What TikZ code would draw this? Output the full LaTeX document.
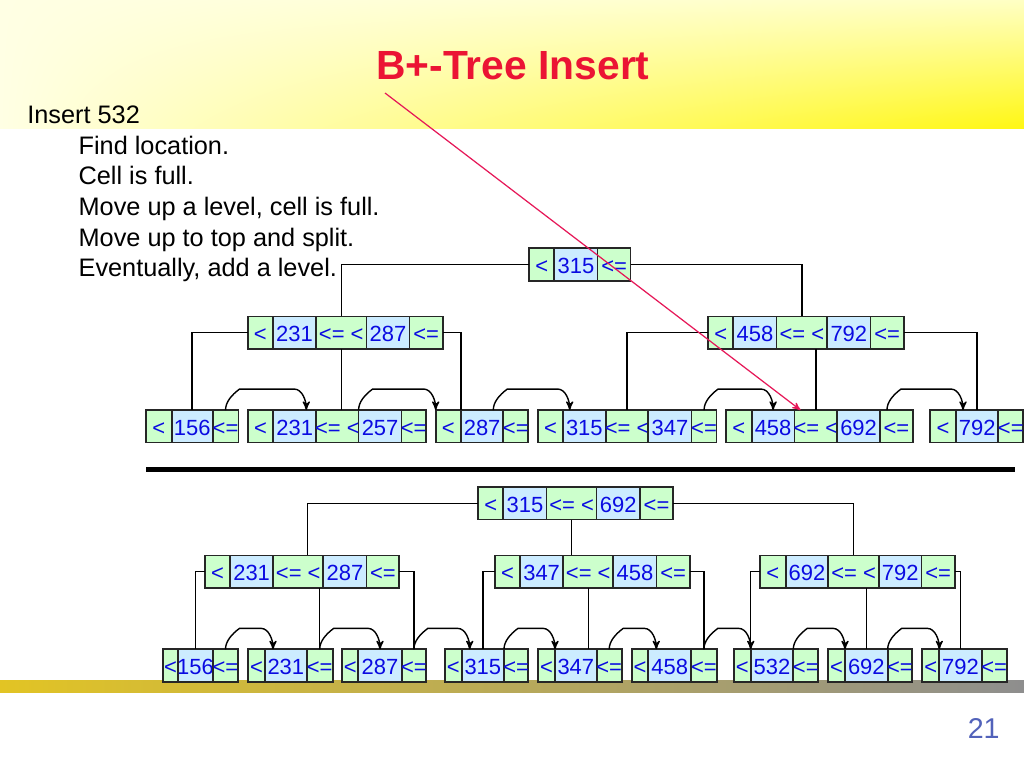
\documentclass[tikz,border=0pt]{standalone}
\usepackage{fontspec}
\setmainfont{Liberation Sans}
\usetikzlibrary{positioning}
\usetikzlibrary{arrows}
\usetikzlibrary{calc}
\usetikzlibrary{shadings}
\definecolor{cellgreen}{RGB}{204,255,204}
\definecolor{cellblue}{RGB}{204,236,255}
\definecolor{keytext}{RGB}{10,10,225}
\definecolor{titlered}{RGB}{235,20,52}
\definecolor{pointred}{RGB}{230,24,88}
\definecolor{pagenum}{RGB}{82,98,186}
\definecolor{bandgold}{RGB}{226,196,36}
\definecolor{bandgrey}{RGB}{142,142,142}
\definecolor{headpale}{RGB}{255,255,228}
\definecolor{headlight}{RGB}{255,255,196}
\definecolor{headyellow}{RGB}{255,247,20}
\tikzset{>=stealth'}
\tikzset{cell/.style={draw=black!85, line width=1pt, inner sep=0pt, outer sep=0pt, minimum height=0.65cm, text height=10pt, text depth=0pt, text=keytext, font=\fontsize{12.5}{14}\selectfont}}
\tikzset{lt/.style={cell, fill=cellgreen}}
\tikzset{key/.style={cell, fill=cellblue}}
\tikzset{edge/.style={line width=0.8pt}}
\tikzset{link/.style={->, line width=0.8pt, to path={(\tikztostart) .. controls +(0,-8) and +(-8,6) .. ($(\tikztostart)+(14,-21)$) -- ($(\tikztotarget)+(-12,-21)$) .. controls +(8,0) and +(0,-9) .. (\tikztotarget)}}}
\tikzset{pointer/.style={->, draw=pointred, line width=0.7pt}}
\tikzset{title/.style={anchor=base, text=titlered, font=\fontsize{23.2}{28}\selectfont\bfseries}}
\tikzset{body/.style={anchor=base west, inner sep=0pt, font=\fontsize{14.4}{17}\selectfont}}

\newcommand{\onekey}[6]{%
  \node[lt, minimum width=#4cm, anchor=west] (#1-a) at (#2) {\makebox[0pt]{<}};
  \node[key, minimum width=#5cm, right=0pt of #1-a] (#1-k) {\makebox[0pt]{#3}};
  \node[lt, minimum width=#6cm, right=0pt of #1-k] (#1-b) {\makebox[0pt]{<=}};}
\newcommand{\twokey}[8]{%
  \node[lt, minimum width=#5cm, anchor=west] (#1-a) at (#2) {\makebox[0pt]{<}};
  \node[key, minimum width=#6cm, right=0pt of #1-a] (#1-k1) {\makebox[0pt]{#3}};
  \node[lt, minimum width=#7cm, right=0pt of #1-k1] (#1-m) {\makebox[0pt]{<= <}};
  \node[key, minimum width=#6cm, right=0pt of #1-m] (#1-k2) {\makebox[0pt]{#4}};
  \node[lt, minimum width=#8cm, right=0pt of #1-k2] (#1-b) {\makebox[0pt]{<=}};}

\begin{document}
\begin{tikzpicture}[x=0.02cm, y=-0.02cm]
\useasboundingbox (0,0) rectangle (1024,768);
\fill[white] (0,0) rectangle (1024,768);
\shade[upper left=headpale, lower left=headpale, upper right=headlight, lower right=headyellow] (0,0) rectangle (1024,128);
\shade[left color=bandgold, right color=bandgrey] (0,680) rectangle (1024,692);

\node[title] (title) at (513,79.3) {B+-Tree Insert};
\node[body] (step0) at (27,123.3) {Insert 532};
\foreach \txt [count=\i] in {Find location., Cell is full., {Move up a level, cell is full.}, Move up to top and split., {Eventually, add a level.}}
  \node[body] (step\i) at (78.3,123.3+30.7*\i) {\txt};
\node[anchor=base east, inner sep=0pt, text=pagenum, font=\fontsize{16.3}{19}\selectfont] (page) at (1000,738.3) {21};

% before
\onekey{troot}{529.3,264.5}{315}{0.5}{0.866}{0.66}
\twokey{ti1}{247.7,332.7}{231}{287}{0.506}{0.86}{1.01}{0.666}
\twokey{ti2}{708.3,332.7}{458}{792}{0.5}{0.866}{1.012}{0.666}
\onekey{tl156}{146,426.3}{156}{0.514}{0.82}{0.514}
\twokey{tl231}{247.7,426.3}{231}{257}{0.512}{0.86}{0.846}{0.486}
\onekey{tl287}{435.7,426.3}{287}{0.506}{0.846}{0.5}
\twokey{tl315}{538.3,426.3}{315}{347}{0.488}{0.866}{0.846}{0.5}
\twokey{tl458}{726,426.3}{458}{692}{0.514}{0.856}{0.854}{0.654}
\onekey{tl792}{930,426.3}{792}{0.52}{0.846}{0.5}

\draw[edge] (troot-a.west) -| (ti1-m.north);
\draw[edge] (troot-b.east) -| (ti2-m.north);
\draw[edge] (ti1-a.west) -| (tl156-k.north);
\draw[edge] (ti1-m.south) -- (ti1-m.south |- tl231-m.north);
\draw[edge] (ti1-b.east) -| (tl287-a.north east);
\draw[edge] (ti2-a.west) -| (tl315-m.north);
\draw[edge] (tl458-m.north) -- (tl458-m.north |- ti2-m.south);
\draw[edge] (ti2-b.east) -| (tl792-k.north);

\draw[link] (tl156-b.north) to ([xshift=-0.2cm]tl231-k1.north east);
\draw[link] (tl231-k2.north west) to (tl287-a.north west);
\draw[link] ([xshift=-0.2cm]tl287-k.north east) to ([xshift=0.14cm]tl315-k1.north west);
\draw[link] (tl315-b.north) to (tl458-k1.north);
\draw[link] ([xshift=0.14cm]tl458-b.north west) to ([xshift=0.14cm]tl792-k.north west);

\draw[line width=0.1cm] (146,469.5) -- (1015,469.5);

% after
\twokey{broot}{478.3,503.3}{315}{692}{0.5}{0.866}{1.0}{0.666}
\twokey{bi231}{205,571.7}{231}{287}{0.5}{0.866}{1.0}{0.654}
\twokey{bi347}{495,571.7}{347}{458}{0.5}{0.866}{1.0}{0.666}
\twokey{bi692}{760,571.7}{692}{792}{0.514}{0.852}{1.014}{0.666}
\onekey{bl156}{162.7,665.6}{156}{0.312}{0.688}{0.512}
\onekey{bl231}{248.3,665.6}{231}{0.334}{0.834}{0.52}
\onekey{bl287}{342.3,665.6}{287}{0.32}{0.868}{0.486}
\onekey{bl315}{445,665.6}{315}{0.334}{0.846}{0.486}
\onekey{bl347}{538.3,665.6}{347}{0.334}{0.834}{0.5}
\onekey{bl458}{631.7,665.6}{458}{0.332}{0.854}{0.514}
\onekey{bl532}{734,665.6}{532}{0.334}{0.852}{0.5}
\onekey{bl692}{828.3,665.6}{692}{0.334}{0.854}{0.492}
\onekey{bl792}{922.3,665.6}{792}{0.34}{0.848}{0.5}

\draw[edge] (broot-a.west) -| ([xshift=0.18cm]bi231-m.north);
\draw[edge] (broot-m.south) -- (broot-m.south |- bi347-m.north);
\draw[edge] (broot-b.east) -| (bi692-m.north);
\draw[edge] (bi231-a.west) -| (bl156-k.north);
\draw[edge] (bl231-b.north) -- (bl231-b.north |- bi231-m.south);
\draw[edge] (bi231-b.east) -| (bl287-b.north);
\draw[edge] (bi347-a.west) -| (bl315-k.north);
\draw[edge] (bi347-m.south) -- (bi347-m.south |- bl347-k.north);
\draw[edge] (bi347-b.east) -| (bl458-b.north);
\draw[edge] (bi692-a.west) -| (bl532-a.north east);
\draw[edge] (bl692-k.north) -- (bl692-k.north |- bi692-m.south);
\draw[edge] (bi692-b.east) -| (bl792-k.north);

\draw[link] (bl156-b.north) to ([xshift=0.16cm]bl231-k.north west);
\draw[link] (bl231-b.north) to (bl287-k.north);
\draw[link] (bl287-b.north) to ([xshift=0.16cm]bl315-k.north west);
\draw[link] (bl315-b.north west) to (bl347-k.north west);
\draw[link] (bl347-b.north) to ([xshift=0.16cm]bl458-k.north west);
\draw[link] (bl458-b.north) to (bl532-k.north west);
\draw[link] (bl532-b.north west) to (bl692-k.north west);
\draw[link] (bl692-b.north west) to (bl792-k.north west);

\coordinate (callout) at (385,93);
\draw[pointer] (callout) -- ([xshift=0.12cm]tl458-m.north west);
\end{tikzpicture}
\end{document}
